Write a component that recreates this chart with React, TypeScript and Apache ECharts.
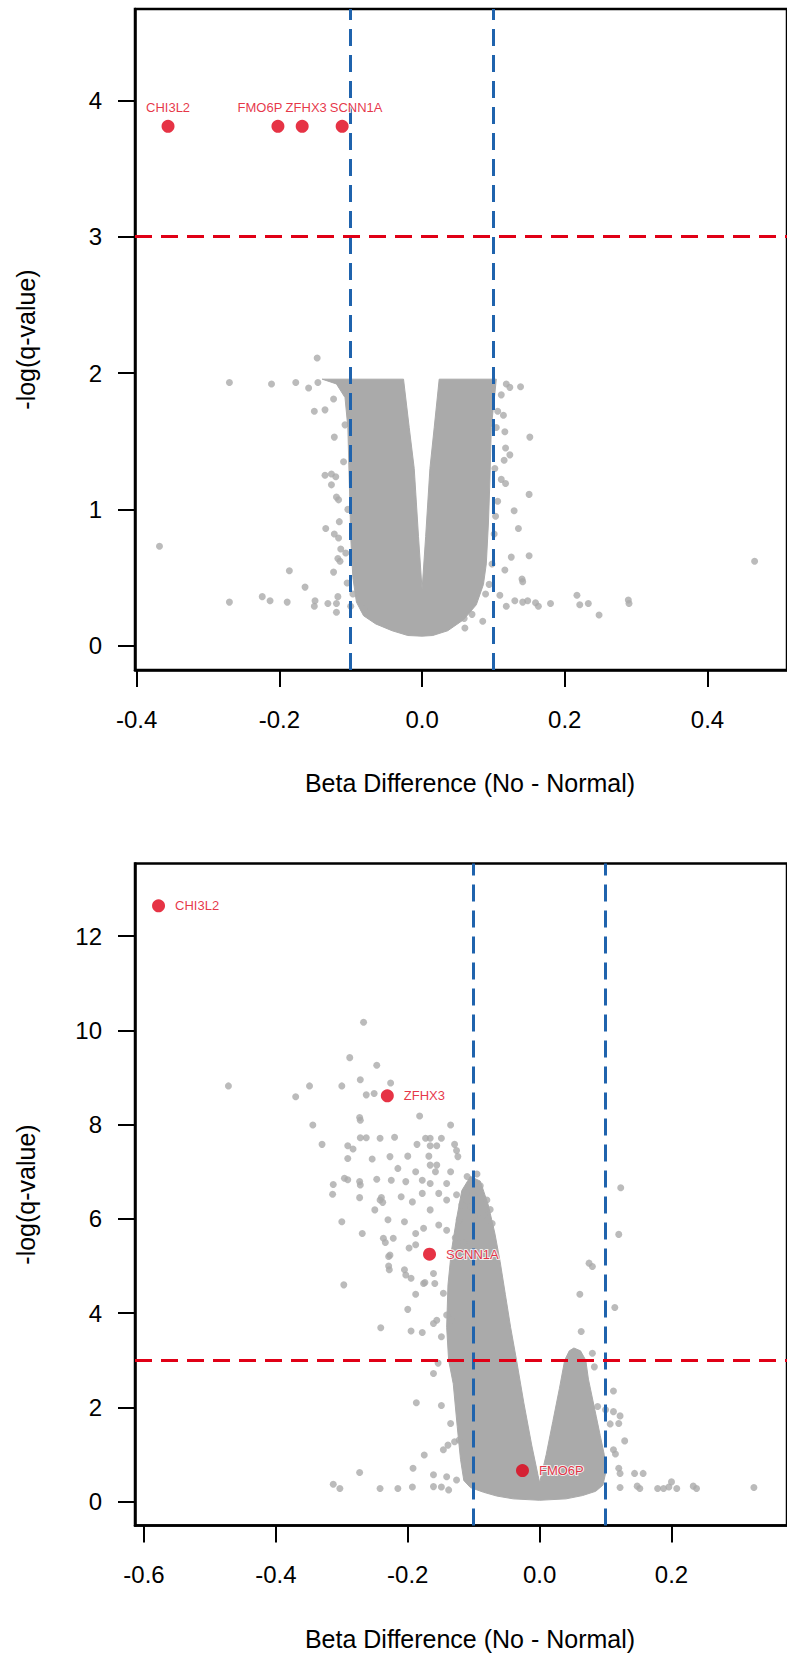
import React, { useEffect, useRef } from 'react';
import * as echarts from 'echarts';

// ---------------- data ----------------
const topXTicks = [-0.4, -0.2, 0, 0.2, 0.4];
const topYTicks = [0, 1, 2, 3, 4];
const bottomXTicks = [-0.6, -0.4, -0.2, 0, 0.2];
const bottomYTicks = [0, 2, 4, 6, 8, 10, 12];

const betaCutoffs = [-0.1, 0.1];
const qCutoff = 3;

const xTitle = 'Beta Difference (No - Normal)';
const yTitle = '-log(q-value)';

// highlighted genes, top panel
const topGenes = ['CHI3L2', 'FMO6P', 'ZFHX3', 'SCNN1A'];
const topGeneBeta = [-0.356, -0.202, -0.168, -0.112];
const topGeneQ = [3.81, 3.81, 3.81, 3.81];

// highlighted genes, bottom panel
const bottomGenes = ['CHI3L2', 'ZFHX3', 'SCNN1A', 'FMO6P'];
const bottomGeneBeta = [-0.578, -0.231, -0.167, -0.026];
const bottomGeneQ = [12.64, 8.61, 5.25, 0.66];

// outline of the dense point cloud (beta, -log q), top panel
const topCloud: [number, number][] = [
  [-0.14, 1.955], [-0.026, 1.955], [-0.018, 1.6], [-0.011, 1.3], [-0.005, 0.8], [0.0, 0.41],
  [0.005, 0.8], [0.011, 1.3], [0.017, 1.6], [0.024, 1.955], [0.104, 1.955], [0.102, 1.85],
  [0.097, 1.6], [0.095, 1.2], [0.093, 0.9], [0.09, 0.6], [0.086, 0.45], [0.076, 0.3],
  [0.058, 0.19], [0.036, 0.11], [0.015, 0.075], [0.0, 0.07], [-0.02, 0.075], [-0.042, 0.11],
  [-0.065, 0.16], [-0.082, 0.22], [-0.092, 0.32], [-0.097, 0.5], [-0.1, 0.8], [-0.102, 1.2],
  [-0.104, 1.6], [-0.108, 1.82], [-0.12, 1.92],
];

// scattered probes outside the dense cloud, top panel
const topPoints: [number, number][] = [
  [-0.147, 2.11], [-0.270, 1.93], [-0.211, 1.92], [-0.177, 1.93], [-0.159, 1.89], [-0.146, 1.93],
  [-0.124, 1.81], [-0.151, 1.72], [-0.136, 1.73], [-0.123, 1.53], [-0.136, 1.25], [-0.127, 1.26],
  [-0.121, 1.24], [-0.127, 1.18], [-0.120, 1.09], [-0.117, 1.07], [-0.116, 0.91], [-0.135, 0.86],
  [-0.123, 0.82], [-0.117, 0.79], [-0.114, 0.71], [-0.368, 0.73], [-0.118, 0.64], [-0.115, 0.62],
  [-0.186, 0.55], [-0.124, 0.54], [-0.105, 0.46], [-0.164, 0.43], [-0.224, 0.36], [-0.213, 0.33],
  [-0.189, 0.32], [-0.270, 0.32], [-0.150, 0.33], [-0.151, 0.29], [-0.132, 0.31], [-0.120, 0.31],
  [-0.118, 0.36], [-0.120, 0.245], [-0.100, 0.29], [-0.082, 0.27],
  [-0.108, 1.62], [-0.110, 1.35], [-0.104, 1.0], [-0.107, 0.68], [-0.097, 0.38],
  [0.118, 1.92], [0.123, 1.895], [0.138, 1.90], [0.111, 1.84], [0.114, 1.69], [0.106, 1.72],
  [0.116, 1.57], [0.151, 1.53], [0.117, 1.45], [0.123, 1.40], [0.115, 1.36], [0.111, 1.22],
  [0.117, 1.19], [0.150, 1.11], [0.106, 1.06], [0.129, 0.99], [0.135, 0.86], [0.101, 0.82],
  [0.125, 0.65], [0.150, 0.66], [0.466, 0.62], [0.116, 0.555], [0.140, 0.49], [0.141, 0.47],
  [0.109, 0.37], [0.089, 0.38], [0.217, 0.37], [0.118, 0.29], [0.130, 0.33], [0.141, 0.32],
  [0.148, 0.33], [0.159, 0.315], [0.163, 0.29], [0.180, 0.31], [0.221, 0.30], [0.233, 0.31],
  [0.248, 0.225], [0.289, 0.335], [0.290, 0.31], [0.070, 0.23], [0.060, 0.13], [0.085, 0.18],
  [0.059, 0.2], [0.104, 1.6], [0.102, 1.3], [0.103, 0.95], [0.098, 0.6], [0.094, 0.45],
];

// outline of the dense point cloud, bottom panel
const bottomCloud: [number, number][] = [
  [-0.118, 6.6], [-0.105, 6.9], [-0.09, 6.8], [-0.078, 6.3], [-0.068, 5.7], [-0.06, 5.1],
  [-0.052, 4.4], [-0.044, 3.7], [-0.035, 3.0], [-0.024, 2.1], [-0.012, 1.2], [0.0, 0.40],
  [0.01, 1.0], [0.02, 1.7], [0.03, 2.4], [0.038, 3.0], [0.045, 3.2], [0.052, 3.26],
  [0.062, 3.2], [0.07, 3.0], [0.074, 2.6], [0.08, 2.2], [0.086, 1.8], [0.092, 1.4],
  [0.098, 1.0], [0.1, 0.6], [0.096, 0.35], [0.085, 0.22], [0.065, 0.13], [0.04, 0.06],
  [0.0, 0.03], [-0.04, 0.06], [-0.065, 0.12], [-0.085, 0.2], [-0.105, 0.3], [-0.115, 0.45],
  [-0.12, 0.9], [-0.125, 1.6], [-0.131, 2.5], [-0.138, 3.0], [-0.141, 3.7], [-0.139, 4.6],
  [-0.134, 5.3], [-0.126, 6.0],
];

// scattered probes outside the dense cloud, bottom panel
const bottomPoints: [number, number][] = [
  [-0.267, 10.17], [-0.288, 9.42], [-0.247, 9.26], [-0.472, 8.82], [-0.349, 8.82], [-0.300, 8.82],
  [-0.272, 8.95], [-0.370, 8.59], [-0.263, 8.63], [-0.251, 8.66], [-0.226, 8.88], [-0.344, 7.99],
  [-0.273, 8.15], [-0.272, 8.09], [-0.330, 7.58], [-0.291, 7.55], [-0.283, 7.48], [-0.272, 7.72],
  [-0.263, 7.72], [-0.242, 7.71], [-0.291, 7.28], [-0.254, 7.27], [-0.227, 7.32], [-0.296, 6.86],
  [-0.291, 6.83], [-0.273, 6.79], [-0.272, 6.72], [-0.313, 6.73], [-0.314, 6.52], [-0.247, 6.84],
  [-0.273, 6.45], [-0.240, 6.45], [-0.238, 6.35], [-0.250, 6.19], [-0.300, 5.94], [-0.230, 5.98],
  [-0.269, 5.69], [-0.237, 5.59], [-0.234, 5.50], [-0.227, 5.23], [-0.297, 4.60], [-0.241, 3.69],
  [-0.229, 5.20], [-0.229, 5.00], [-0.273, 0.62], [-0.313, 0.37], [-0.303, 0.28], [-0.242, 0.28],
  [-0.182, 8.18], [-0.135, 7.99], [-0.220, 7.73], [-0.186, 7.58], [-0.173, 7.71], [-0.166, 7.71],
  [-0.149, 7.71], [-0.166, 7.55], [-0.156, 7.55], [-0.129, 7.58], [-0.126, 7.45], [-0.124, 7.32],
  [-0.200, 7.33], [-0.168, 7.33], [-0.156, 7.14], [-0.158, 7.00], [-0.166, 7.14], [-0.215, 7.07],
  [-0.188, 7.00], [-0.203, 6.79], [-0.178, 6.82], [-0.166, 6.75], [-0.141, 6.75], [-0.135, 7.00],
  [-0.225, 6.82], [-0.242, 6.40], [-0.210, 6.47], [-0.193, 6.36], [-0.178, 6.54], [-0.153, 6.54],
  [-0.141, 6.40], [-0.126, 6.51], [-0.112, 6.54], [-0.205, 5.94], [-0.188, 5.69], [-0.176, 5.80],
  [-0.166, 6.19], [-0.153, 5.87], [-0.141, 5.76], [-0.122, 5.98], [-0.104, 6.26], [-0.100, 6.05],
  [-0.085, 6.08], [-0.222, 5.59], [-0.198, 5.38], [-0.188, 5.45],
  [-0.110, 6.9], [-0.095, 6.95], [-0.090, 6.7], [-0.100, 6.5], [-0.080, 6.4], [-0.075, 6.2],
  [-0.118, 6.3], [-0.128, 5.6], [-0.115, 5.5], [-0.072, 5.9],
  [0.123, 6.66], [0.120, 5.67], [0.075, 5.06], [0.080, 4.99], [0.061, 4.40], [0.114, 4.12],
  [0.063, 3.61], [0.080, 3.15], [0.083, 2.86], [0.112, 2.35], [0.088, 2.02], [0.100, 1.95],
  [0.112, 1.91], [0.122, 1.82], [0.120, 1.66], [0.107, 1.65], [0.129, 1.29], [0.112, 1.10],
  [0.115, 1.01], [0.120, 0.71], [0.122, 0.60], [0.144, 0.60], [0.157, 0.60], [0.122, 0.30],
  [0.148, 0.33], [0.152, 0.28], [0.179, 0.28], [0.188, 0.28], [0.200, 0.42], [0.196, 0.31],
  [0.208, 0.28], [0.233, 0.33], [0.238, 0.28], [0.325, 0.30],
  [-0.215, 0.28], [-0.193, 0.31], [-0.161, 0.32], [-0.149, 0.31], [-0.138, 0.25], [-0.161, 0.57],
  [-0.141, 0.53], [-0.126, 0.46], [-0.192, 0.71], [-0.175, 0.99], [-0.146, 1.10], [-0.139, 1.20],
  [-0.129, 1.27], [-0.122, 1.31], [-0.135, 1.66], [-0.149, 2.04], [-0.187, 2.10], [-0.161, 2.72],
  [-0.154, 2.94], [-0.195, 3.62], [-0.178, 3.59], [-0.161, 3.78], [-0.149, 3.50], [-0.200, 4.08],
  [-0.188, 4.40], [-0.174, 4.65], [-0.159, 4.63], [-0.146, 4.42], [-0.134, 3.85], [-0.156, 3.85],
  [-0.141, 3.96], [-0.228, 4.92], [-0.205, 4.92], [-0.203, 4.81], [-0.176, 4.63], [-0.161, 4.84],
  [-0.195, 4.74],
];

// ---------------- layout / style ----------------
const topLabelNudge = [0, -18, 4, 14];
const FONT = '"Liberation Sans", Arial, Helvetica, sans-serif';
const GRAY = '#AAAAAA';
const RED = '#E00016';
const BLUE = '#1F63AD';

function xAxisCfg(gridIndex: number, min: number, max: number, ticks: number[]) {
  return {
    type: 'value', gridIndex, min, max,
    axisLine: { show: true, onZero: false, lineStyle: { color: '#000', width: 2.5 } },
    axisTick: { show: true, inside: false, length: 17, customValues: ticks, lineStyle: { color: '#000', width: 2 } },
    axisLabel: {
      show: true, customValues: ticks, margin: 37, fontSize: 24, color: '#000', fontFamily: FONT,
      formatter: (v: number) => v.toFixed(1),
    },
    splitLine: { show: false },
  };
}
function yAxisCfg(gridIndex: number, min: number, max: number, ticks: number[]) {
  return {
    type: 'value', gridIndex, min, max,
    axisLine: { show: true, onZero: false, lineStyle: { color: '#000', width: 2.5 } },
    axisTick: { show: true, inside: false, length: 17, customValues: ticks, lineStyle: { color: '#000', width: 2 } },
    axisLabel: {
      show: true, customValues: ticks, margin: 33, fontSize: 24, color: '#000', fontFamily: FONT,
      formatter: (v: number) => String(v),
    },
    splitLine: { show: false },
  };
}
function cloudSeries(idx: number, outline: [number, number][]) {
  return {
    type: 'custom', xAxisIndex: idx, yAxisIndex: idx, z: 1, silent: true,
    data: outline,
    renderItem: (params: any, api: any) => {
      if (params.dataIndex !== 0) return null;
      const pts = outline.map((p) => api.coord(p));
      return {
        type: 'polygon', shape: { points: pts, smooth: 0 },
        style: { fill: GRAY, stroke: GRAY, lineWidth: 1, lineJoin: 'round' },
      };
    },
  };
}
function pointSeries(idx: number, pts: [number, number][]) {
  return {
    type: 'scatter', xAxisIndex: idx, yAxisIndex: idx, z: 2, silent: true,
    symbol: 'circle', symbolSize: 7, itemStyle: { color: GRAY },
    data: pts,
  };
}
function cutoffSeries(idx: number) {
  const dash = [17, 9];
  return {
    type: 'scatter', xAxisIndex: idx, yAxisIndex: idx, z: 3, silent: true, data: [],
    markLine: {
      silent: true, symbol: ['none', 'none'], label: { show: false }, animation: false, z: 3,
      emphasis: { disabled: true },
      data: [
        ...betaCutoffs.map((b) => ({ xAxis: b, lineStyle: { color: BLUE, width: 3, type: dash } })),
        { yAxis: qCutoff, lineStyle: { color: RED, width: 3, type: dash } },
      ],
    },
  };
}

export default function App() {
  const ref = useRef<HTMLDivElement>(null);
  useEffect(() => {
    if (!ref.current) return;
    const chart = echarts.init(ref.current, undefined, { renderer: 'svg' });
    const labelBase = {
      show: true, formatter: '{b}', color: RED, fontSize: 13, fontFamily: FONT,
      textBorderColor: '#fff', textBorderWidth: 2,
    };
    const titleStyle = { fontSize: 25, fontFamily: FONT, fill: '#000', align: 'center', verticalAlign: 'middle' };
    const option: any = {
      animation: false,
      backgroundColor: '#fff',
      grid: [
        { left: 135, top: 9, width: 670, height: 661, show: true, borderColor: '#000', borderWidth: 2.5, backgroundColor: 'transparent' },
        { left: 135, top: 863.5, width: 670, height: 662, show: true, borderColor: '#000', borderWidth: 2.5, backgroundColor: 'transparent' },
      ],
      xAxis: [
        xAxisCfg(0, -0.4023, 0.5114, topXTicks),
        xAxisCfg(1, -0.6137, 0.3752, bottomXTicks),
      ],
      yAxis: [
        yAxisCfg(0, -0.178, 4.67, topYTicks),
        yAxisCfg(1, -0.505, 13.538, bottomYTicks),
      ],
      series: [
        cloudSeries(0, topCloud),
        pointSeries(0, topPoints),
        cutoffSeries(0),
        {
          type: 'scatter', xAxisIndex: 0, yAxisIndex: 0, z: 6, silent: true,
          symbol: 'circle', symbolSize: 13, itemStyle: { color: RED },
          label: { ...labelBase, position: 'top', distance: 6 },
          data: topGenes.map((g, i) => ({
            name: g, value: [topGeneBeta[i], topGeneQ[i]],
            label: { offset: [topLabelNudge[i], 0] },
          })),
        },
        cloudSeries(1, bottomCloud),
        pointSeries(1, bottomPoints),
        cutoffSeries(1),
        {
          type: 'scatter', xAxisIndex: 1, yAxisIndex: 1, z: 6, silent: true,
          symbol: 'circle', symbolSize: 13, itemStyle: { color: RED },
          label: { ...labelBase, position: 'right', distance: 10 },
          data: bottomGenes.map((g, i) => ({ name: g, value: [bottomGeneBeta[i], bottomGeneQ[i]] })),
        },
      ],
      graphic: [
        { type: 'text', x: 470, y: 783, z: 10, style: { ...titleStyle, text: xTitle } },
        { type: 'text', x: 470, y: 1639, z: 10, style: { ...titleStyle, text: xTitle } },
        { type: 'text', x: 26, y: 339.5, rotation: Math.PI / 2, z: 10, style: { ...titleStyle, text: yTitle } },
        { type: 'text', x: 26, y: 1194.5, rotation: Math.PI / 2, z: 10, style: { ...titleStyle, text: yTitle } },
      ],
    };
    chart.setOption(option);
    return () => chart.dispose();
  }, []);
  return (
    <div
      ref={ref}
      style={{ position: 'absolute', left: 0, top: 0, width: 787, height: 1653, background: '#fff' }}
    />
  );
}
